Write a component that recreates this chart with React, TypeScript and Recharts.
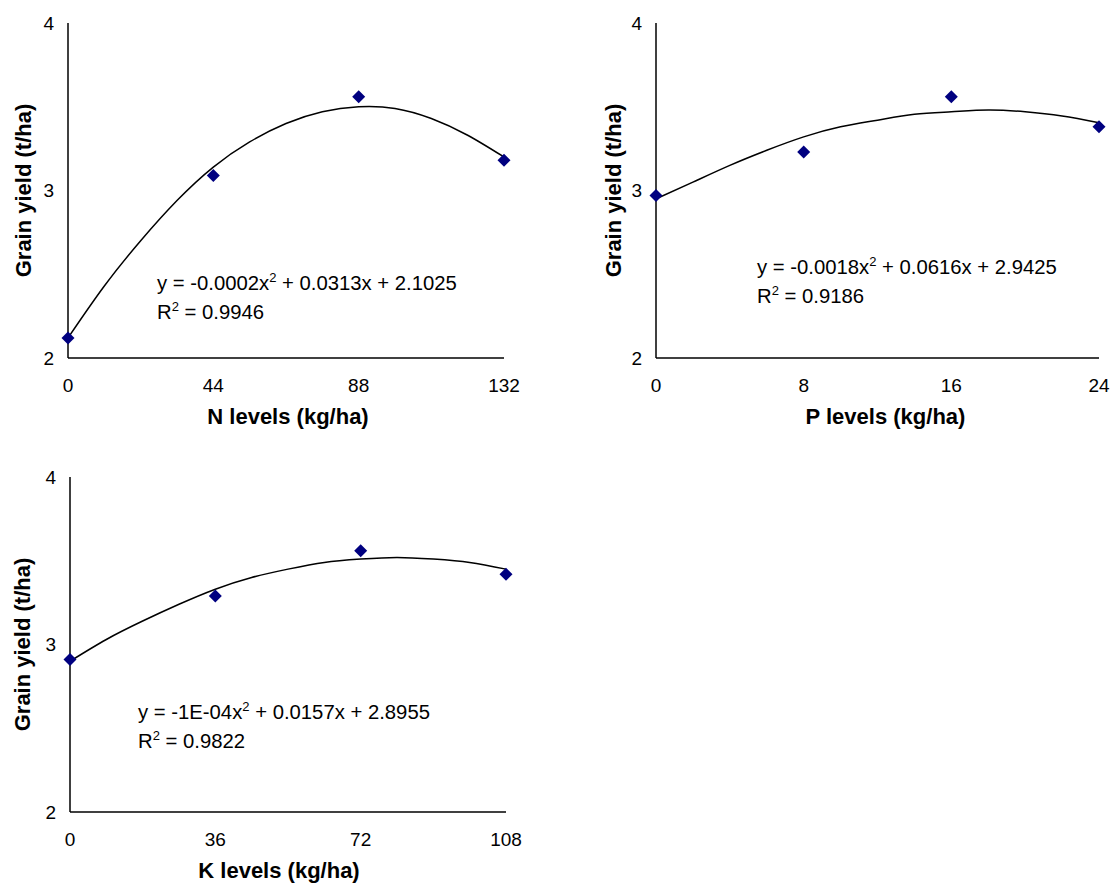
import { ComposedChart, Line, Scatter, XAxis, YAxis, Label } from 'recharts';

// N levels panel
const nLevels = [0, 44, 88, 132];
const nYield = [2.12, 3.09, 3.56, 3.18];
const nTrendX = [0, 11, 22, 33, 44, 55, 66, 77, 88, 99, 110, 121, 132];
const nTrendY = [2.12, 2.43, 2.7, 2.94, 3.14, 3.29, 3.4, 3.47, 3.5, 3.49, 3.43, 3.33, 3.2];

// P levels panel
const pLevels = [0, 8, 16, 24];
const pYield = [2.97, 3.23, 3.56, 3.38];
const pTrendX = [0, 2, 4, 6, 8, 10, 12, 14, 16, 18, 20, 22, 24];
const pTrendY = [2.95, 3.05, 3.15, 3.24, 3.32, 3.38, 3.42, 3.455, 3.47, 3.48, 3.47, 3.445, 3.405];

// K levels panel
const kLevels = [0, 36, 72, 108];
const kYield = [2.91, 3.29, 3.56, 3.42];
const kTrendX = [0, 9, 18, 27, 36, 45, 54, 63, 72, 81, 90, 99, 108];
const kTrendY = [2.9, 3.03, 3.14, 3.24, 3.33, 3.4, 3.45, 3.49, 3.51, 3.52, 3.51, 3.49, 3.45];

const yTicks = [2, 3, 4];
const yTitle = 'Grain yield (t/ha)';

const FONT = "Arial, 'Liberation Sans', sans-serif";

const toPoints = (xs: number[], ys: number[]) => xs.map((x, i) => ({ x, y: ys[i] }));

const Diamond = (props: any) => {
  const { cx, cy } = props;
  const r = 6.5;
  return (
    <path
      d={`M${cx},${cy - r}L${cx + r},${cy}L${cx},${cy + r}L${cx - r},${cy}Z`}
      fill="#000080"
    />
  );
};

interface PanelProps {
  left: number;
  top: number;
  width: number;
  height: number;
  marginRight: number;
  marginBottom: number;
  xs: number[];
  ys: number[];
  trendX: number[];
  trendY: number[];
  xTitle: string;
  titleDx: number;
  yTitleOffset: number;
}

function Panel(p: PanelProps) {
  const xMax = p.xs[p.xs.length - 1];
  return (
    <div style={{ position: 'absolute', left: p.left, top: p.top }}>
      <ComposedChart
        width={p.width}
        height={p.height}
        margin={{ top: 23, right: p.marginRight, bottom: p.marginBottom, left: 0 }}
        style={{ fontFamily: FONT }}
      >
        <XAxis
          dataKey="x"
          type="number"
          domain={[0, xMax]}
          ticks={p.xs}
          interval={0}
          height={70}
          tickLine={false}
          tickSize={0}
          tickMargin={21}
          axisLine={{ stroke: '#000', strokeWidth: 1.5 }}
          tick={{ fontSize: 19, fill: '#000', fontFamily: FONT }}
        >
          <Label
            value={p.xTitle}
            position="insideBottom"
            offset={4}
            dx={p.titleDx}
            style={{ fontSize: 22, fontWeight: 700, fill: '#000', fontFamily: FONT }}
          />
        </XAxis>
        <YAxis
          dataKey="y"
          type="number"
          domain={[2, 4]}
          ticks={yTicks}
          width={68}
          tickLine={false}
          tickSize={0}
          tickMargin={14}
          axisLine={{ stroke: '#000', strokeWidth: 1.5 }}
          tick={{ fontSize: 19, fill: '#000', fontFamily: FONT }}
        >
          <Label
            value={yTitle}
            position="insideLeft"
            angle={-90}
            offset={p.yTitleOffset}
            style={{ fontSize: 22, fontWeight: 700, fill: '#000', textAnchor: 'middle', fontFamily: FONT }}
          />
        </YAxis>
        <Line
          data={toPoints(p.trendX, p.trendY)}
          dataKey="y"
          type="natural"
          stroke="#000"
          strokeWidth={1.5}
          dot={false}
          activeDot={false}
          isAnimationActive={false}
        />
        <Scatter
          data={toPoints(p.xs, p.ys)}
          dataKey="y"
          shape={<Diamond />}
          isAnimationActive={false}
        />
      </ComposedChart>
    </div>
  );
}

const sup = { fontSize: 13, position: 'relative' as const, top: -8 };

function Equation({ left, top, a, b }: { left: number; top: number; a: string; b: string }) {
  return (
    <div
      style={{
        position: 'absolute',
        left,
        top,
        fontFamily: FONT,
        fontSize: 20.3,
        lineHeight: '27px',
        color: '#000',
        whiteSpace: 'nowrap',
      }}
    >
      <div>
        {a.split('x^2')[0]}x<span style={sup}>2</span>
        {a.split('x^2')[1]}
      </div>
      <div>
        R<span style={sup}>2</span>
        {b}
      </div>
    </div>
  );
}

export default function App() {
  return (
    <div style={{ position: 'absolute', left: 0, top: 0, width: 1114, height: 884, background: '#fff' }}>
      <Panel
        left={0}
        top={0}
        width={540}
        height={440}
        marginRight={36}
        marginBottom={12}
        xs={nLevels}
        ys={nYield}
        trendX={nTrendX}
        trendY={nTrendY}
        xTitle="N levels (kg/ha)"
        titleDx={2}
        yTitleOffset={23}
      />
      <Panel
        left={588}
        top={0}
        width={526}
        height={440}
        marginRight={15}
        marginBottom={12}
        xs={pLevels}
        ys={pYield}
        trendX={pTrendX}
        trendY={pTrendY}
        xTitle="P levels (kg/ha)"
        titleDx={8}
        yTitleOffset={25}
      />
      <Panel
        left={2}
        top={454}
        width={540}
        height={430}
        marginRight={36}
        marginBottom={2}
        xs={kLevels}
        ys={kYield}
        trendX={kTrendX}
        trendY={kTrendY}
        xTitle="K levels (kg/ha)"
        titleDx={-9}
        yTitleOffset={20}
      />
      <Equation left={157} top={270} a="y = -0.0002x^2 + 0.0313x + 2.1025" b=" = 0.9946" />
      <Equation left={757} top={254} a="y = -0.0018x^2 + 0.0616x + 2.9425" b=" = 0.9186" />
      <Equation left={138} top={699} a="y = -1E-04x^2 + 0.0157x + 2.8955" b=" = 0.9822" />
    </div>
  );
}
